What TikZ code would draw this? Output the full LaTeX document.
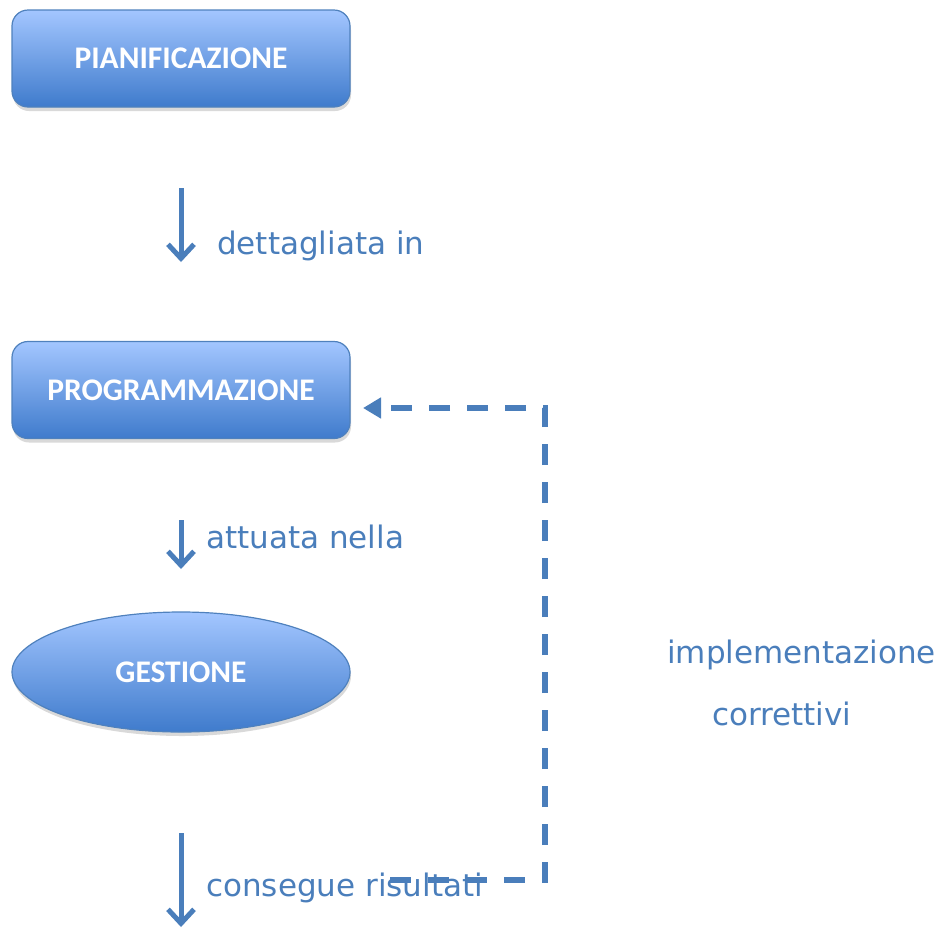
\documentclass[tikz,border=0pt]{standalone}
\usepackage{fontspec}
\setmainfont{DejaVu Sans}
\newfontfamily\boxfont{Carlito}
\usetikzlibrary{shapes.geometric,shadows,arrows.meta}
\definecolor{lab}{HTML}{4A7EBB}
\definecolor{topc}{HTML}{A3C6FF}
\definecolor{botc}{HTML}{3F7BCC}
\definecolor{edge}{HTML}{4F81BD}
\begin{document}
\begin{tikzpicture}[x=1pt,y=-1pt,
 boxbase/.style={draw=edge, line width=1.2pt, top color=topc, bottom color=botc, text=white,
   font=\boxfont\bfseries\fontsize{31.5}{31.5}\selectfont,
   drop shadow={shadow xshift=1pt, shadow yshift=-4pt, opacity=0.3}},
 stepbox/.style={boxbase, rounded corners=16pt, minimum width=338pt, minimum height=97pt, inner sep=0pt},
 ellbox/.style={boxbase, ellipse, minimum width=338pt, minimum height=120pt, inner sep=0pt},
 lbl/.style={text=lab, font=\fontsize{31}{36}\selectfont, anchor=west, inner sep=0pt},
 flow/.style={draw=lab, line width=5pt, -{Straight Barb[length=14pt,width=26pt]}},
 back/.style={draw=lab, line width=6pt, dash pattern=on 21pt off 17pt, -{Triangle[length=18pt,width=20pt]}}]
\useasboundingbox (0,0) rectangle (952,927);
\node[stepbox] (pian) at (181,58.5) {PIANIFICAZIONE};
\node[stepbox] (prog) at (181,390) {PROGRAMMAZIONE};
\node[ellbox] (gest) at (181,672) {GESTIONE};
\coordinate (a1s) at (181,188);
\coordinate (a1e) at (181,262);
\coordinate (a2s) at (181,520);
\coordinate (a2e) at (181,569);
\coordinate (a3s) at (181,833);
\coordinate (a3e) at (181,927);
\draw[flow] (a1s) -- (a1e);
\draw[flow] (a2s) -- (a2e);
\draw[flow] (a3s) -- (a3e);
\node[lbl] (l1) at (217,246) {dettagliata in};
\node[lbl] (l2) at (206,537) {attuata nella};
\node[lbl] (l3) at (206,888) {consegue risultati};
\node[lbl] (l4) at (667,655) {implementazione};
\node[lbl] (l5) at (712,714) {correttivi};
\coordinate (bs) at (390,880);
\coordinate (bc1) at (545,880);
\coordinate (bc2) at (545,408);
\coordinate (be) at (363,408);
\draw[back] (bs) -- (bc1) -- (bc2) -- (be);
\end{tikzpicture}
\end{document}
